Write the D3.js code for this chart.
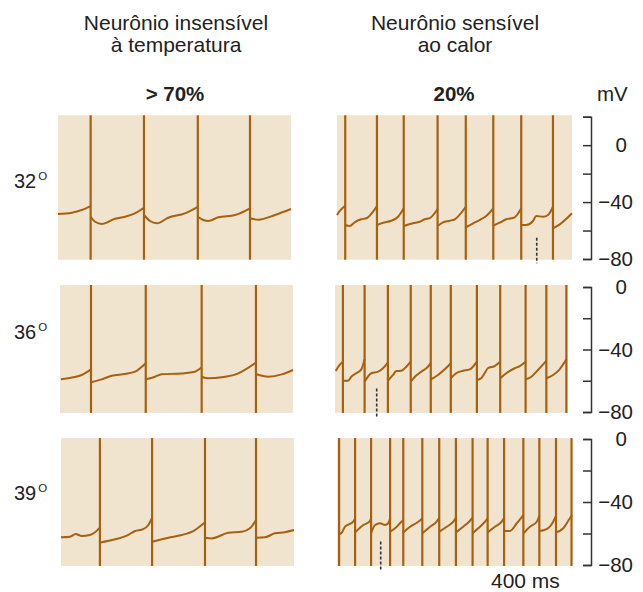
<!DOCTYPE html>
<html>
<head>
<meta charset="utf-8">
<script src="https://cdn.jsdelivr.net/npm/d3@7"></script>
<style>
  body { margin: 0; background: #fff; }
  svg { display: block; font-family: 'Liberation Sans', Arial, Helvetica, sans-serif; }
</style>
</head>
<body>
<div id="chart"></div>
<script>
// ---- Data (time in ms across each panel, membrane potential in mV) ----
const temps = ['32', '36', '39'];
const titles = [['Neurônio insensível', 'à temperatura'], ['Neurônio sensível', 'ao calor']];
const shares = ['> 70%', '20%'];
const mvTicks = [[20, 0, -20, -40, -60, -80], [0, -20, -40, -60, -80], [0, -20, -40, -60, -80]];
const mvLabels = { '0': '0', '-40': '\u221240', '-80': '\u221280' };
const markTimes = [850, 179, 186];   // dashed marks under the heat-sensitive traces
const markRange = [-65, -83];
const timeLabel = '400 ms';

// 32 degrees
const spikesInsens32 = [140, 369, 600, 824];
const traceInsens32 = [
  [[0, -48.4], [59, -47.5], [102, -45.6], [140, -42.8]],
  [[140, -50.3], [159, -53.8], [188, -55.4], [215, -54.0], [237, -52.1], [288, -50.3], [330, -47.9], [369, -44.0]],
  [[369, -49.1], [395, -53.3], [424, -54.9], [473, -51.0], [545, -47.9], [600, -43.3]],
  [[600, -50.3], [624, -52.6], [645, -53.3], [688, -50.7], [760, -49.1], [824, -44.4]],
  [[824, -51.4], [860, -52.4], [931, -49.1], [1000, -44.9]]
];
const spikesSens32 = [35, 170, 284, 428, 548, 665, 784, 919];
const traceSens32 = [
  [[0, -49.1], [9, -46.8], [35, -42.6]],
  [[35, -56.1], [54, -56.8], [75, -54.2], [103, -52.1], [125, -51.4], [153, -46.8], [170, -42.8]],
  [[170, -56.1], [196, -54.5], [231, -53.1], [260, -50.3], [284, -44.4]],
  [[284, -56.8], [323, -54.9], [352, -53.8], [373, -52.1], [394, -51.4], [428, -44.9]],
  [[428, -56.8], [451, -54.2], [480, -53.1], [501, -52.1], [548, -43.3]],
  [[548, -57.8], [579, -54.9], [607, -52.6], [635, -49.8], [665, -44.4]],
  [[665, -56.5], [692, -54.5], [720, -52.1], [756, -50.7], [784, -44.4]],
  [[784, -56.1], [805, -56.1], [834, -53.3], [848, -49.8], [877, -50.3], [898, -49.1], [919, -43.3]],
  [[919, -58.5], [948, -55.7], [1000, -47.9]]
];

// 36 degrees
const spikesInsens36 = [133, 368, 608, 841];
const traceInsens36 = [
  [[4, -59.1], [57, -57.8], [93, -56.3], [133, -52.7]],
  [[133, -61.0], [179, -59.1], [222, -56.8], [279, -55.7], [322, -54.2], [368, -48.8]],
  [[368, -59.1], [408, -57.4], [436, -55.9], [522, -55.3], [579, -54.2], [608, -51.4]],
  [[608, -57.4], [636, -58.4], [694, -57.8], [765, -55.3], [841, -48.4]],
  [[841, -55.7], [894, -57.4], [952, -55.9], [1000, -53.1]]
];
const spikesSens36 = [34, 127, 227, 325, 411, 497, 609, 709, 818, 907, 993];
const traceSens36 = [
  [[3, -53.8], [20, -49.9], [34, -47.8]],
  [[34, -60.0], [56, -60.0], [70, -57.4], [91, -55.2], [113, -52.7], [127, -46.3]],
  [[127, -60.6], [156, -55.2], [185, -54.2], [206, -52.0], [227, -48.4]],
  [[227, -60.0], [249, -56.3], [263, -53.8], [285, -53.6], [306, -51.0], [325, -47.8]],
  [[325, -60.6], [346, -57.0], [370, -54.2], [392, -52.0], [411, -48.8]],
  [[411, -59.1], [442, -56.3], [471, -52.7], [497, -48.8]],
  [[497, -58.4], [520, -55.2], [549, -53.6], [578, -52.7], [592, -51.0], [609, -47.8]],
  [[609, -59.5], [627, -58.4], [642, -55.2], [656, -52.0], [685, -50.6], [709, -47.8]],
  [[709, -58.4], [735, -55.2], [771, -52.0], [793, -50.6], [818, -47.8]],
  [[818, -59.1], [843, -57.4], [871, -53.1], [907, -47.2]],
  [[907, -58.4], [936, -56.3], [964, -52.7], [993, -46.3]]
];

// 39 degrees
const spikesInsens39 = [167, 391, 618, 837];
const traceInsens39 = [
  [[0, -62.4], [39, -62.0], [63, -60.3], [89, -61.6], [124, -61.0], [146, -59.2], [167, -56.3]],
  [[167, -65.8], [232, -63.7], [282, -61.4], [318, -58.4], [353, -57.2], [375, -54.6], [391, -50.0]],
  [[391, -65.2], [461, -62.7], [518, -61.0], [575, -57.8], [618, -52.9]],
  [[618, -62.7], [647, -63.1], [718, -59.5], [776, -58.9], [811, -56.7], [837, -51.4]],
  [[837, -62.7], [876, -62.4], [918, -59.9], [961, -59.2], [1000, -57.8]]
];
const spikesSens39 = [9, 77, 145, 226, 282, 363, 435, 506, 577, 641, 711, 793, 861, 932, 998];
const traceSens39 = [
  [[9, -60.3], [20, -59.5], [34, -55.7], [69, -52.5], [77, -50.4]],
  [[77, -59.3], [112, -54.6], [138, -52.5], [145, -50.4]],
  [[145, -59.9], [162, -54.6], [183, -53.5], [204, -54.6], [218, -53.5], [226, -50.4]],
  [[226, -58.8], [247, -56.7], [268, -53.5], [282, -51.4]],
  [[282, -59.3], [311, -55.7], [346, -52.5], [363, -50.4]],
  [[363, -59.9], [396, -55.7], [424, -52.5], [435, -50.0]],
  [[435, -58.8], [467, -55.7], [495, -52.5], [506, -50.0]],
  [[506, -59.3], [537, -55.7], [562, -52.5], [577, -50.0]],
  [[577, -59.9], [601, -56.7], [630, -52.5], [641, -50.4]],
  [[641, -59.3], [672, -55.7], [701, -52.5], [711, -50.0]],
  [[711, -58.4], [736, -58.4], [765, -53.5], [793, -48.3]],
  [[793, -59.9], [821, -55.7], [850, -52.5], [861, -48.7]],
  [[861, -58.4], [892, -57.2], [920, -52.5], [932, -48.7]],
  [[932, -59.3], [963, -56.7], [989, -50.8], [1000, -48.3]]
];

const panels = [
  [{ spikes: spikesInsens32, trace: traceInsens32 }, { spikes: spikesSens32, trace: traceSens32 }],
  [{ spikes: spikesInsens36, trace: traceInsens36 }, { spikes: spikesSens36, trace: traceSens36 }],
  [{ spikes: spikesInsens39, trace: traceInsens39 }, { spikes: spikesSens39, trace: traceSens39 }]
];

// ---- Layout ----
const width = 643, height = 592;
const bg = '#f1e4cf', ink = '#a6600f', axisInk = '#333';
const rowLayout = [
  { yTop: 116.7, yBottom: 259, top: 21, bottom: -80.5, label: 188 },
  { yTop: 287, yBottom: 412, top: 1.3, bottom: -80.6, label: 339 },
  { yTop: 439, yBottom: 565, top: 0.6, bottom: -80.6, label: 500 }
];
const panelX = [
  [[58, 291], [337, 572]],
  [[60, 293], [335, 568]],
  [[61, 294], [337, 572]]
];
const axisX = 591;

const svg = d3.select('#chart').append('svg')
  .attr('width', width)
  .attr('height', height);

// Column headers
const colCenters = [176, 455];
titles.forEach((lines, c) => {
  const t = svg.append('text')
    .attr('x', colCenters[c]).attr('y', 30)
    .attr('text-anchor', 'middle')
    .attr('font-size', 21).attr('fill', '#222');
  lines.forEach((line, i) => {
    t.append('tspan').attr('x', colCenters[c]).attr('dy', i === 0 ? 0 : 22).text(line);
  });
  svg.append('text')
    .attr('x', colCenters[c] - 1).attr('y', 101)
    .attr('text-anchor', 'middle')
    .attr('font-size', 20.5).attr('font-weight', 'bold').attr('fill', '#222')
    .text(shares[c]);
});
svg.append('text').attr('x', 597).attr('y', 101)
  .attr('font-size', 20.5).attr('fill', '#222').text('mV');

const line = d3.line().curve(d3.curveMonotoneX);

rowLayout.forEach((row, r) => {
  const top = mvTicks[r][0];
  const y = d3.scaleLinear().domain([-80, top]).range([row.yBottom, row.yTop]);
  const panelTop = y(row.top), panelBottom = y(row.bottom);

  // Row label (temperature)
  const lbl = svg.append('text')
    .attr('x', 14).attr('y', row.label)
    .attr('font-size', 20).attr('fill', '#222')
    .text(temps[r]);
  lbl.append('tspan').attr('font-size', 11.5).attr('dx', 2).attr('dy', -8).text('O');

  panels[r].forEach((p, c) => {
    const [x0, x1] = panelX[r][c];
    const x = d3.scaleLinear().domain([0, 1000]).range([x0, x1]);
    const g = svg.append('g');

    g.append('rect')
      .attr('x', x0).attr('y', panelTop)
      .attr('width', x1 - x0).attr('height', panelBottom - panelTop)
      .attr('fill', bg);

    // Action potentials as full-height strokes
    g.selectAll('line.spike')
      .data(p.spikes)
      .join('line')
      .attr('class', 'spike')
      .attr('x1', d => x(d)).attr('x2', d => x(d))
      .attr('y1', panelTop).attr('y2', panelBottom)
      .attr('stroke', ink).attr('stroke-width', 2.2);

    // Interspike membrane potential
    g.selectAll('path.trace')
      .data(p.trace)
      .join('path')
      .attr('class', 'trace')
      .attr('d', seg => line.x(d => x(d[0])).y(d => y(d[1]))(seg))
      .attr('fill', 'none')
      .attr('stroke', ink).attr('stroke-width', 2)
      .attr('stroke-linejoin', 'round');

    if (c === 1) {
      g.append('line')
        .attr('x1', x(markTimes[r])).attr('x2', x(markTimes[r]))
        .attr('y1', y(markRange[0])).attr('y2', y(markRange[1]))
        .attr('stroke', axisInk).attr('stroke-width', 1.6)
        .attr('stroke-dasharray', '3,2');
    }
  });

  // mV scale bracket
  const axis = d3.axisRight(y)
    .tickValues(mvTicks[r])
    .tickSizeInner(-8).tickSizeOuter(-8)
    .tickFormat(d => mvLabels[String(d)] || '');
  const ax = svg.append('g')
    .attr('transform', `translate(${axisX},0)`)
    .call(axis);
  ax.select('.domain').attr('stroke', axisInk).attr('stroke-width', 1.5);
  ax.selectAll('.tick line').attr('stroke', axisInk).attr('stroke-width', 1.5);
  ax.selectAll('.tick text')
    .attr('x', d => d === 0 ? 36 : 42)
    .attr('text-anchor', 'end')
    .attr('font-size', 20.5)
    .attr('font-family', 'Liberation Sans, Arial, sans-serif')
    .attr('fill', '#222');
});

svg.append('text').attr('x', 491).attr('y', 588)
  .attr('font-size', 21).attr('fill', '#222').text(timeLabel);
</script>
</body>
</html>
